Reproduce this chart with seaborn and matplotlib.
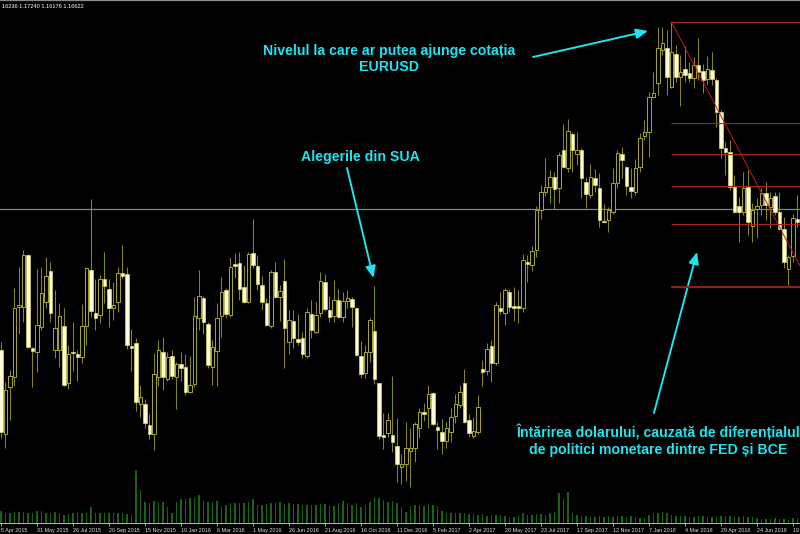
import pandas as pd
import seaborn as sns
import matplotlib.pyplot as plt

# EURUSD weekly candles (Apr 2015 - Aug 2018)
weeks = pd.date_range("2015-04-05", periods=178, freq="7D")

opens = [
    1.0957, 1.0537, 1.0772, 1.0822, 1.1172, 1.1172, 1.1432, 1.0967, 1.0947, 1.1072,
    1.1197, 1.1352, 1.0957, 1.0957, 1.1077, 1.0792, 1.0947, 1.0937, 1.0922, 1.1077,
    1.1357, 1.1142, 1.1132, 1.1312, 1.1262, 1.1167, 1.1197, 1.1342, 1.1337, 1.0977,
    1.0992, 1.0687, 1.0687, 1.0582, 1.0537, 1.0822, 1.0947, 1.0812, 1.0927, 1.0822,
    1.0887, 1.0872, 1.0747, 1.0787, 1.1117, 1.1217, 1.1087, 1.0872, 1.0952, 1.1127,
    1.1257, 1.1132, 1.1387, 1.1392, 1.1272, 1.1197, 1.1442, 1.1377, 1.1282, 1.1192,
    1.1077, 1.1347, 1.1222, 1.1302, 1.0997, 1.1102, 1.1012, 1.1017, 1.0927, 1.1137,
    1.1047, 1.1142, 1.1297, 1.1157, 1.1127, 1.1207, 1.1122, 1.1202, 1.1212, 1.1167,
    1.0927, 1.0842, 1.0947, 1.1052, 1.0792, 1.0532, 1.0542, 1.0532, 1.0477, 1.0372,
    1.0387, 1.0452, 1.0467, 1.0567, 1.0647, 1.0667, 1.0742, 1.0572, 1.0547, 1.0502,
    1.0547, 1.0627, 1.0682, 1.0792, 1.0607, 1.0527, 1.0547, 1.0862, 1.0852, 1.0977,
    1.0892, 1.1167, 1.1142, 1.1247, 1.1177, 1.1177, 1.1167, 1.1397, 1.1382, 1.1457,
    1.1657, 1.1747, 1.1772, 1.1822, 1.1767, 1.1957, 1.1867, 1.2037, 1.1937, 1.1957,
    1.1797, 1.1732, 1.1817, 1.1767, 1.1602, 1.1607, 1.1647, 1.1792, 1.1937, 1.1872,
    1.1772, 1.1747, 1.1872, 1.2027, 1.2047, 1.2222, 1.2292, 1.2457, 1.2467, 1.2272,
    1.2437, 1.2322, 1.2362, 1.2342, 1.2317, 1.2382, 1.2352, 1.2312, 1.2357, 1.2307,
    1.2147, 1.1967, 1.1947, 1.1772, 1.1677, 1.1647, 1.1772, 1.1577, 1.1662, 1.1682,
    1.1742, 1.1672, 1.1727, 1.1647, 1.1562, 1.1362, 1.1427, 1.1612,
]
highs = [
    1.0997, 1.0797, 1.0857, 1.1267, 1.1372, 1.1457, 1.1437, 1.0972, 1.1362, 1.1372,
    1.1422, 1.1397, 1.1257, 1.1192, 1.1167, 1.0982, 1.1097, 1.0957, 1.1187, 1.1372,
    1.1712, 1.1312, 1.1332, 1.1447, 1.1312, 1.1297, 1.1372, 1.1482, 1.1372, 1.1062,
    1.1017, 1.0782, 1.0712, 1.0637, 1.0942, 1.1007, 1.1022, 1.0947, 1.0957, 1.0897,
    1.0947, 1.0937, 1.0927, 1.1222, 1.1357, 1.1227, 1.1097, 1.1007, 1.1192, 1.1322,
    1.1267, 1.1422, 1.1442, 1.1447, 1.1382, 1.1447, 1.1612, 1.1432, 1.1327, 1.1217,
    1.1357, 1.1397, 1.1282, 1.1412, 1.1157, 1.1157, 1.1137, 1.1047, 1.1167, 1.1207,
    1.1197, 1.1347, 1.1337, 1.1227, 1.1307, 1.1262, 1.1247, 1.1257, 1.1222, 1.1172,
    1.1002, 1.0982, 1.1117, 1.1277, 1.0792, 1.0642, 1.0642, 1.0827, 1.0617, 1.0437,
    1.0597, 1.0567, 1.0597, 1.0667, 1.0692, 1.0782, 1.0747, 1.0597, 1.0612, 1.0597,
    1.0667, 1.0737, 1.0782, 1.0862, 1.0637, 1.0622, 1.0732, 1.0907, 1.0992, 1.1007,
    1.1197, 1.1247, 1.1267, 1.1262, 1.1272, 1.1257, 1.1437, 1.1432, 1.1477, 1.1677,
    1.1782, 1.1917, 1.1857, 1.1847, 1.1947, 1.2087, 1.2112, 1.2047, 1.2047, 1.1967,
    1.1822, 1.1887, 1.1862, 1.1842, 1.1687, 1.1672, 1.1867, 1.1957, 1.1972, 1.1877,
    1.1867, 1.1912, 1.2042, 1.2107, 1.2247, 1.2347, 1.2572, 1.2572, 1.2557, 1.2597,
    1.2482, 1.2432, 1.2477, 1.2397, 1.2422, 1.2517, 1.2387, 1.2427, 1.2447, 1.2317,
    1.2157, 1.1997, 1.2007, 1.1832, 1.1722, 1.1847, 1.1857, 1.1692, 1.1717, 1.1767,
    1.1797, 1.1747, 1.1747, 1.1747, 1.1622, 1.1432, 1.1637, 1.1732,
]
lows = [
    1.0517, 1.0467, 1.0607, 1.0777, 1.1037, 1.1097, 1.0967, 1.0772, 1.0847, 1.1057,
    1.1167, 1.1097, 1.0917, 1.0872, 1.0777, 1.0762, 1.0852, 1.0802, 1.0892, 1.0982,
    1.1122, 1.1057, 1.1092, 1.1192, 1.1072, 1.1107, 1.1147, 1.1317, 1.0962, 1.0852,
    1.0652, 1.0622, 1.0567, 1.0512, 1.0457, 1.0777, 1.0757, 1.0802, 1.0812, 1.0662,
    1.0802, 1.0732, 1.0742, 1.0772, 1.1057, 1.1037, 1.0867, 1.0782, 1.0777, 1.1022,
    1.1117, 1.1122, 1.1317, 1.1207, 1.1192, 1.1192, 1.1367, 1.1257, 1.1157, 1.1077,
    1.1067, 1.1217, 1.1102, 1.0867, 1.0937, 1.0967, 1.0982, 1.0917, 1.0917, 1.1017,
    1.1042, 1.1122, 1.1152, 1.1097, 1.1097, 1.1117, 1.1097, 1.1167, 1.1072, 1.0927,
    1.0817, 1.0817, 1.0897, 1.0787, 1.0512, 1.0462, 1.0522, 1.0447, 1.0297, 1.0287,
    1.0302, 1.0272, 1.0397, 1.0517, 1.0602, 1.0567, 1.0582, 1.0462, 1.0437, 1.0467,
    1.0497, 1.0592, 1.0667, 1.0592, 1.0522, 1.0517, 1.0537, 1.0777, 1.0832, 1.0797,
    1.0882, 1.1137, 1.1082, 1.1147, 1.1102, 1.1092, 1.1147, 1.1297, 1.1352, 1.1422,
    1.1612, 1.1727, 1.1692, 1.1662, 1.1692, 1.1867, 1.1847, 1.1847, 1.1882, 1.1717,
    1.1667, 1.1717, 1.1747, 1.1572, 1.1592, 1.1547, 1.1637, 1.1767, 1.1817, 1.1732,
    1.1717, 1.1732, 1.1847, 1.2007, 1.1922, 1.2217, 1.2232, 1.2432, 1.2232, 1.2267,
    1.2297, 1.2177, 1.2297, 1.2297, 1.2267, 1.2307, 1.2242, 1.2282, 1.2282, 1.2072,
    1.1917, 1.1832, 1.1757, 1.1642, 1.1497, 1.1632, 1.1532, 1.1497, 1.1517, 1.1632,
    1.1607, 1.1567, 1.1632, 1.1557, 1.1367, 1.1282, 1.1397, 1.1572,
]
closes = [
    1.0547, 1.0757, 1.0827, 1.1167, 1.1182, 1.1432, 1.0972, 1.0952, 1.1082, 1.1242,
    1.1327, 1.1142, 1.1067, 1.1127, 1.0782, 1.0937, 1.0942, 1.0922, 1.1077, 1.1367,
    1.1152, 1.1117, 1.1312, 1.1277, 1.1167, 1.1182, 1.1342, 1.1327, 1.0982, 1.0967,
    1.0697, 1.0722, 1.0592, 1.0537, 1.0837, 1.0957, 1.0822, 1.0922, 1.0827, 1.0887,
    1.0867, 1.0747, 1.0782, 1.1127, 1.1227, 1.1097, 1.0882, 1.0972, 1.1117, 1.1247,
    1.1137, 1.1372, 1.1377, 1.1262, 1.1197, 1.1437, 1.1382, 1.1287, 1.1197, 1.1082,
    1.1347, 1.1222, 1.1252, 1.1067, 1.1107, 1.1017, 1.0997, 1.0937, 1.1147, 1.1057,
    1.1132, 1.1302, 1.1162, 1.1122, 1.1207, 1.1122, 1.1202, 1.1217, 1.1172, 1.0932,
    1.0837, 1.0947, 1.1107, 1.0812, 1.0527, 1.0522, 1.0607, 1.0497, 1.0387, 1.0387,
    1.0467, 1.0467, 1.0587, 1.0647, 1.0637, 1.0737, 1.0587, 1.0557, 1.0502, 1.0567,
    1.0622, 1.0687, 1.0747, 1.0597, 1.0542, 1.0552, 1.0672, 1.0847, 1.0962, 1.0892,
    1.1182, 1.1152, 1.1257, 1.1172, 1.1167, 1.1167, 1.1407, 1.1387, 1.1452, 1.1657,
    1.1747, 1.1772, 1.1822, 1.1762, 1.1932, 1.1872, 1.2052, 1.1957, 1.1957, 1.1817,
    1.1737, 1.1822, 1.1782, 1.1607, 1.1597, 1.1657, 1.1792, 1.1942, 1.1907, 1.1777,
    1.1752, 1.1867, 1.2017, 1.2047, 1.2222, 1.2242, 1.2467, 1.2492, 1.2322, 1.2447,
    1.2322, 1.2347, 1.2332, 1.2317, 1.2382, 1.2347, 1.2307, 1.2362, 1.2312, 1.2147,
    1.1967, 1.1947, 1.1772, 1.1647, 1.1647, 1.1767, 1.1597, 1.1657, 1.1677, 1.1742,
    1.1682, 1.1717, 1.1647, 1.1562, 1.1397, 1.1422, 1.1617, 1.1597,
]
# tick volume (thousands)
volumes = [
    12, 10, 10, 11, 11, 11, 10, 10, 12, 12, 10, 10, 11, 10, 8, 9, 10, 10, 10, 10,
    16, 10, 10, 10, 10, 10, 10, 10, 9, 8, 53, 33, 21, 20, 22, 21,
    21, 16, 10, 21, 24, 24, 25, 25, 28, 22, 21, 21, 22, 16, 18, 20, 20, 20, 20, 21,
    24, 18, 18, 19, 20, 20, 21, 19, 20, 19, 19, 18, 18, 18, 18,
    19, 19, 17, 17, 20, 22, 20, 18, 20, 16, 18, 21, 26, 25, 23, 21, 22, 20,
    16, 11, 17, 18, 18, 17, 19, 18, 17, 12, 10, 10, 10, 10, 10, 9, 9, 8, 9, 7,
    8, 8, 8, 7, 6, 6, 7, 10, 8, 8, 9, 9, 8, 10, 11, 30, 24, 31, 10, 8,
    7, 7, 6, 6, 7, 6, 7, 6, 7, 7, 6, 7, 6, 5, 5, 8, 10, 10, 11, 10,
    8, 7, 7, 7, 6, 6, 7, 7, 6, 6, 6, 7, 7, 7, 6, 6, 7, 6, 6, 5,
    4, 4, 4, 5, 4, 4, 3, 5, 5,
]

bid_price = 1.16622
header_text = "16236 1.17240 1.16176 1.16622"

# Fibonacci retracement drawn from the Feb 2018 top
fib_high_week, fib_high = 149, 1.2597
fib_low_week, fib_low = 180, 1.12735
fib_levels = [0.0, 0.382, 0.5, 0.618, 0.764, 1.0]

annot_top = "Nivelul la care ar putea ajunge cotația\nEURUSD"
annot_election = "Alegerile din SUA"
annot_dollar = "Întărirea dolarului, cauzată de diferențialul\nde politici monetare dintre FED și BCE"

df = pd.DataFrame({"week": weeks, "open": opens, "high": highs, "low": lows,
                   "close": closes, "volume": volumes})
df["idx"] = range(len(df))
df["body_low"] = df[["open", "close"]].min(axis=1)
df["body_h"] = (df["close"] - df["open"]).abs().clip(lower=0.0004)
bull = df[df["close"] > df["open"]]
bear = df[df["close"] <= df["open"]]

tick_weeks = df.iloc[::8]
tick_labels = [f"{d.day} {d.strftime('%b %Y')}" for d in tick_weeks["week"]]

sns.set_theme(style="dark", rc={"axes.facecolor": "black", "figure.facecolor": "black"})
plt.rcParams["font.family"] = ["Liberation Sans", "DejaVu Sans"]

W, H = 800, 534
cyan = "#1fe3ef"
fib_red = "#a3261b"


def fpos(x, y):
    return (x / W, 1 - y / H)


fig = plt.figure(figsize=(W / 100, H / 100), dpi=100)
ax = fig.add_axes([0, 11 / H, 1, 523 / H])
ax.set_facecolor("black")

ax.axhline(bid_price, color="#7b8794", lw=0.9, zorder=1)

ax.vlines(df["idx"], df["low"], df["high"], color="#85851a", lw=0.75, zorder=2)
ax.bar(bull["idx"], bull["body_h"], bottom=bull["body_low"], width=0.74,
       facecolor="black", edgecolor="#a8a828", linewidth=0.7, zorder=3)
ax.bar(bear["idx"], bear["body_h"], bottom=bear["body_low"], width=0.74,
       facecolor="#fffbd6", edgecolor="#d9d86a", linewidth=0.5, zorder=3)

x_right = 177.56
for lvl in fib_levels:
    price = fib_high - lvl * (fib_high - fib_low)
    ax.hlines(price, fib_high_week, x_right + 2, color="#8e1e16" if lvl == 1.0 else fib_red,
              lw=1.6 if lvl == 1.0 else 0.8, zorder=4)
ax.plot([fib_high_week, fib_low_week], [fib_high, fib_low], color="#c81a14", lw=0.7, zorder=4)

# tick volume sits at the bottom of the price window
vol_ax = ax.twinx()
sns.barplot(data=df, x="idx", y="volume", native_scale=True, width=0.3, color="#176217",
            saturation=1, errorbar=None, linewidth=0, ax=vol_ax)
vol_ax.set_ylim(0, 523)
vol_ax.set_axis_off()

ax.set_xlim(-0.222, x_right)
ax.set_ylim(1.0092, 1.2707)
ax.set_yticks([])
ax.set_xticks(tick_weeks["idx"])
ax.set_xticklabels(tick_labels, ha="left", fontsize=3.9, color="#e0e0e0")
ax.tick_params(axis="x", bottom=True, length=2.5, width=0.6, color="#bdbdbd", pad=1.2)
ax.set_xlabel("")
ax.set_ylabel("")
ax.grid(False)
for side in ["left", "right"]:
    ax.spines[side].set_visible(False)
ax.spines["bottom"].set_color("#bdbdbd")
ax.spines["bottom"].set_linewidth(0.7)
ax.spines["top"].set_color("#8a8a8a")
ax.spines["top"].set_linewidth(1.6)

fig.text(*fpos(2, 6), header_text, fontsize=4.1, color="white", ha="left", va="center")

text_kw = dict(ha="center", va="center", fontsize=10.2, fontweight="bold", color=cyan,
               linespacing=1.25)
fig.text(*fpos(389, 59), annot_top, **text_kw)
fig.text(*fpos(360.5, 157), annot_election, **text_kw)
fig.text(*fpos(658.5, 440), annot_dollar, **text_kw)

arrow_kw = dict(arrowstyle="-|>,head_length=0.7,head_width=0.3", color=cyan, lw=1.4,
                mutation_scale=10, shrinkA=0, shrinkB=0)
for start, tip in [((533, 57), (648, 31)), ((347, 168), (373.5, 278)), ((654, 413), (697, 252))]:
    ax.annotate("", xy=fpos(*tip), xytext=fpos(*start), xycoords="figure fraction",
                textcoords="figure fraction", arrowprops=arrow_kw)

fig.savefig("out.png", dpi=100, facecolor="black")
